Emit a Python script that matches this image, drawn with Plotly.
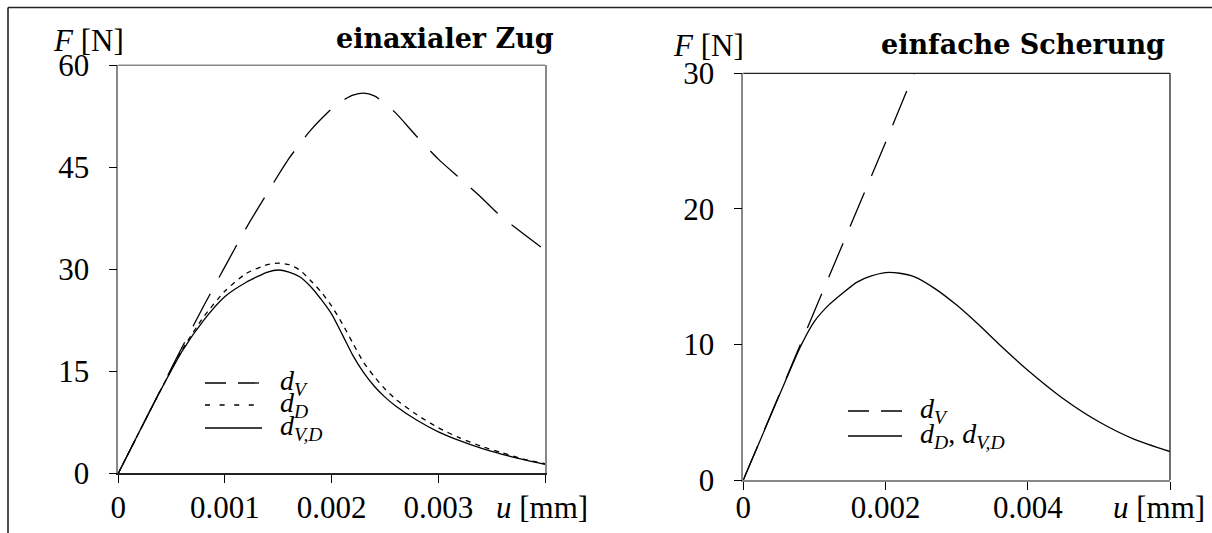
import plotly.graph_objects as go

W, H = 1212, 533

# ---------------- data: einaxialer Zug (left) ----------------
u_zug = [0, 0.0002, 0.0004, 0.0006, 0.0008, 0.001, 0.0012, 0.0014, 0.0015, 0.0016,
         0.0017, 0.0018, 0.0019, 0.002, 0.0021, 0.0022, 0.0023, 0.0024, 0.0025, 0.0026,
         0.0028, 0.003, 0.0032, 0.0034, 0.0036, 0.0038, 0.004]
F_zug_dVD = [0, 6.2, 12.3, 18.0, 22.5, 26.0, 28.1, 29.6, 29.9, 29.6,
             28.9, 27.5, 25.6, 23.4, 20.4, 17.3, 14.8, 12.8, 11.2, 9.9,
             7.8, 6.1, 4.8, 3.7, 2.8, 2.0, 1.3]
F_zug_dD = [0, 6.2, 12.3, 18.2, 23.0, 26.8, 29.4, 30.7, 30.9, 30.7,
            29.9, 28.4, 26.7, 24.6, 22.0, 19.1, 16.3, 14.2, 12.4, 10.9,
            8.6, 6.7, 5.2, 4.0, 3.0, 2.1, 1.4]
u_zug_dV = [0, 0.0002, 0.0004, 0.0006, 0.0008, 0.001, 0.0012, 0.0014, 0.0016, 0.0018,
            0.002, 0.0021, 0.0022, 0.0023, 0.0024, 0.0025, 0.0026, 0.0028, 0.003,
            0.0032, 0.0034, 0.0036, 0.0038, 0.004]
F_zug_dV = [0, 6.2, 12.4, 18.6, 24.6, 30.4, 36.1, 41.3, 46.3, 50.4,
            53.6, 54.8, 55.6, 55.9, 55.5, 54.4, 53.0, 49.5, 46.2,
            43.4, 40.6, 37.6, 35.2, 32.8]

# ---------------- data: einfache Scherung (right) ----------------
u_sch_dV = [0, 0.0005, 0.001, 0.0015, 0.002, 0.0024]
F_sch_dV = [0, 6.2, 12.5, 18.7, 24.9, 30.0]
u_sch = [0, 0.0003, 0.0006, 0.0008, 0.001, 0.0012, 0.0014, 0.0016, 0.0018, 0.002,
         0.0022, 0.0024, 0.0027, 0.003, 0.0033, 0.0036, 0.004, 0.0045, 0.005, 0.0055, 0.006]
F_sch_dD = [0, 3.7, 7.4, 9.8, 11.7, 12.9, 13.8, 14.6, 15.05, 15.3,
            15.25, 15.0, 14.1, 12.9, 11.5, 10.0, 8.1, 6.0, 4.3, 3.0, 2.1]

# tick labels
zug_xticks = [0, 0.001, 0.002, 0.003, 0.004]
zug_xlabels = ["0", "0.001", "0.002", "0.003", ""]
zug_yticks = [0, 15, 30, 45, 60]
sch_xticks = [0, 0.002, 0.004, 0.006]
sch_xlabels = ["0", "0.002", "0.004", ""]
sch_yticks = [0, 10, 20, 30]

SERIF = "Liberation Serif"
TICKFONT = dict(family=SERIF, size=31, color="black")


def px(x):
    return x / W


def py(y):
    return 1 - y / H


# plot areas in pixels
L = dict(x0=118.3, x1=545.0, y0=65.3, y1=473.3)
R = dict(x0=743.3, x1=1170.0, y0=73.3, y1=480.0)

fig = go.Figure()
LW = 1.3
fig.add_trace(go.Scatter(x=u_zug_dV, y=F_zug_dV, mode="lines", xaxis="x", yaxis="y",
                         line=dict(color="black", width=LW, dash="37px,18px", shape="spline",
                                   smoothing=0.6)))
fig.add_trace(go.Scatter(x=u_zug, y=F_zug_dD, mode="lines", xaxis="x", yaxis="y",
                         line=dict(color="black", width=LW, dash="5px,5px", shape="spline",
                                   smoothing=0.6)))
fig.add_trace(go.Scatter(x=u_zug, y=F_zug_dVD, mode="lines", xaxis="x", yaxis="y",
                         line=dict(color="black", width=LW, shape="spline", smoothing=0.6)))
fig.add_trace(go.Scatter(x=u_sch_dV, y=F_sch_dV, mode="lines", xaxis="x2", yaxis="y2",
                         line=dict(color="black", width=LW, dash="37px,18px")))
fig.add_trace(go.Scatter(x=u_sch, y=F_sch_dD, mode="lines", xaxis="x2", yaxis="y2",
                         line=dict(color="black", width=LW, shape="spline", smoothing=0.6)))

common = dict(ticks="outside", ticklen=8, tickwidth=1.2, tickcolor="black", showline=True,
              showgrid=False, zeroline=False, tickfont=TICKFONT, fixedrange=True,
              automargin=False)

fig.update_layout(
    template="none",
    width=W, height=H, margin=dict(l=0, r=0, t=0, b=0, pad=0), autosize=False,
    paper_bgcolor="white", plot_bgcolor="white", showlegend=False,
    xaxis=dict(domain=[px(L["x0"]), px(L["x1"])], range=[0, 0.004], tickvals=zug_xticks,
               ticktext=zug_xlabels, linecolor="#222", linewidth=1.5, anchor="y",
               ticklabelstandoff=-2, **common),
    yaxis=dict(domain=[py(L["y1"]), py(L["y0"])], range=[0, 60], tickvals=zug_yticks,
               linecolor="#888", linewidth=1.5, mirror=True, anchor="x",
               ticklabelstandoff=13, **common),
    xaxis2=dict(domain=[px(R["x0"]), px(R["x1"])], range=[0, 0.006], tickvals=sch_xticks,
                ticktext=sch_xlabels, linecolor="#888", linewidth=1.5, anchor="y2",
                ticklabelstandoff=-9, **common),
    yaxis2=dict(domain=[py(R["y1"]), py(R["y0"])], range=[0, 30], tickvals=sch_yticks,
                linecolor="#888", linewidth=1.5, anchor="x2",
                ticklabelstandoff=13, **common),
)

shapes = []
# frame of whole picture (top and left)
shapes.append(dict(type="line", xref="paper", yref="paper", x0=px(8), x1=1, y0=py(7.5), y1=py(7.5),
                   line=dict(color="#222", width=1.6)))
shapes.append(dict(type="line", xref="paper", yref="paper", x0=px(8), x1=px(8), y0=py(7.5), y1=0,
                   line=dict(color="#222", width=1.6)))
# left plot top border
shapes.append(dict(type="line", xref="x domain", yref="y domain", x0=0, x1=1, y0=1, y1=1,
                   line=dict(color="#888", width=1.5)))
# right plot top and right borders
shapes.append(dict(type="line", xref="x2 domain", yref="y2 domain", x0=0, x1=1, y0=1, y1=1,
                   line=dict(color="#222", width=1.3)))
shapes.append(dict(type="line", xref="x2 domain", yref="y2 domain", x0=1, x1=1, y0=0, y1=1,
                   line=dict(color="#222", width=1.3)))

# legend samples
def leg_line(x0, x1, y, dash):
    shapes.append(dict(type="line", xref="paper", yref="paper", x0=px(x0), x1=px(x1),
                       y0=py(y), y1=py(y), line=dict(color="black", width=LW, dash=dash)))

leg_line(205, 262, 383, "21px,12px")
leg_line(205, 262, 405, "5px,9.6px")
leg_line(205, 262, 428, "solid")
leg_line(848, 902, 411, "21px,12px")
leg_line(848, 902, 436, "solid")
fig.update_layout(shapes=shapes)

LEGFONT = dict(family=SERIF, size=28, color="black")
ann = []


def text(x, y, s, xanchor="left", font=LEGFONT):
    ann.append(dict(x=px(x), y=py(y), xref="paper", yref="paper", text=s, showarrow=False,
                    xanchor=xanchor, yanchor="middle", font=font, borderpad=0))


text(279, 382, "<i>d</i><sub><i>V</i></sub>")
text(279, 404, "<i>d</i><sub><i>D</i></sub>")
text(279, 427, "<i>d</i><sub><i>V,D</i></sub>")
text(919, 410, "<i>d</i><sub><i>V</i></sub>")
text(919, 435, "<i>d</i><sub><i>D</i></sub>, <i>d</i><sub><i>V,D</i></sub>")

AXFONT = dict(family=SERIF, size=31, color="black")
text(125, 40, "<i>F</i> [N]", xanchor="right", font=AXFONT)
text(745, 46, "<i>F</i> [N]", xanchor="right", font=AXFONT)
text(589, 507, "<i>u</i> [mm]", xanchor="right", font=AXFONT)
text(1206, 507, "<i>u</i> [mm]", xanchor="right", font=AXFONT)

TITLEFONT = dict(family="DejaVu Serif", size=27, color="black", weight="bold")
text(555, 38, "<b>einaxialer Zug</b>", xanchor="right", font=TITLEFONT)
text(1166, 44, "<b>einfache Scherung</b>", xanchor="right", font=TITLEFONT)

fig.update_layout(annotations=ann)
fig.write_html("out.html")
